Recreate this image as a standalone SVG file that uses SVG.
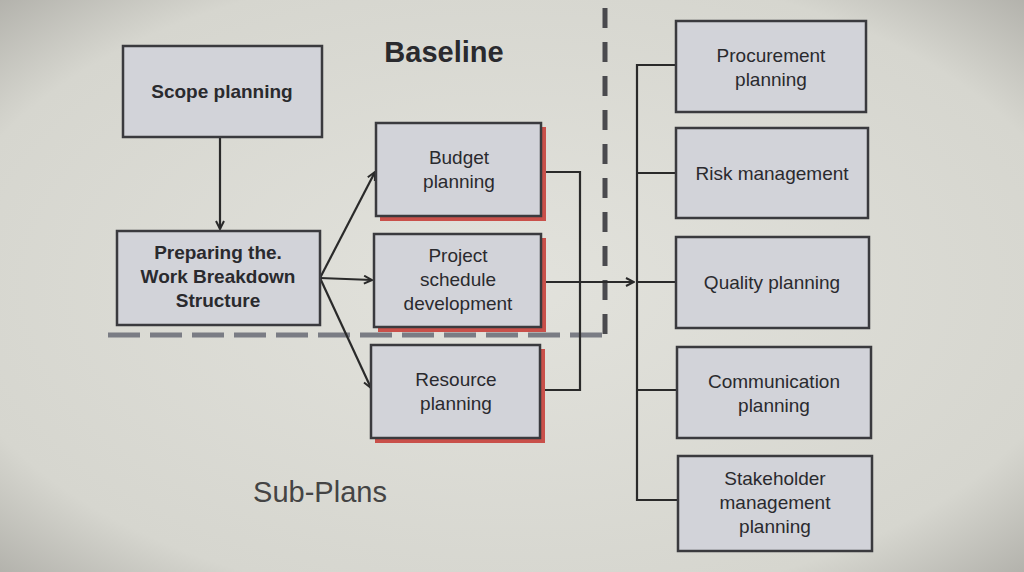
<svg xmlns="http://www.w3.org/2000/svg" width="1024" height="572" viewBox="0 0 1024 572">
<defs>
<radialGradient id="bg" cx="50%" cy="50%" r="75%">
<stop offset="0" stop-color="#e2e2dc"/><stop offset="0.75" stop-color="#d6d6cf"/><stop offset="1" stop-color="#a9a8a2"/>
</radialGradient>
<marker id="ah" markerWidth="10" markerHeight="10" refX="9" refY="5" orient="auto" markerUnits="userSpaceOnUse"><path d="M1,1 L9,5 L1,9" fill="none" stroke="#2a2a2a" stroke-width="2"/></marker>
<style>
.box{fill:#d2d3d9;stroke:#3a3a3e;stroke-width:2.5}
.shadow{fill:#c9504a}
.t{font-family:"Liberation Sans",Arial,sans-serif;font-size:19px;fill:#2a2a2e;text-anchor:middle}
.b{font-weight:bold}
.c{fill:none;stroke:#2a2a2a;stroke-width:2.2}
</style>
</defs>
<rect width="1024" height="572" fill="url(#bg)"/>
<text x="444" y="62" class="t b" style="font-size:29px">Baseline</text>
<text x="320" y="502" class="t" style="font-size:29px;fill:#444">Sub-Plans</text>
<g id="dividers">
<line x1="605" y1="8" x2="605" y2="336" stroke="#4a4a4e" stroke-width="5" stroke-dasharray="20,14"/>
<line x1="108" y1="335" x2="605" y2="335" stroke="#7a7c84" stroke-width="5" stroke-dasharray="32,10"/>
</g>
<g id="connectors">
<line class="c" x1="220" y1="137" x2="220" y2="229" marker-end="url(#ah)"/>
<line class="c" x1="320" y1="278" x2="375" y2="172" marker-end="url(#ah)"/>
<line class="c" x1="320" y1="278" x2="372" y2="280" marker-end="url(#ah)"/>
<line class="c" x1="320" y1="278" x2="371" y2="388" marker-end="url(#ah)"/>
<path class="c" d="M541,172 H580 V390 H540"/>
<line class="c" x1="541" y1="282" x2="634" y2="282" marker-end="url(#ah)"/>
<path class="c" d="M676,65 H637 V500 H678"/>
<line class="c" x1="637" y1="173" x2="676" y2="173"/>
<line class="c" x1="637" y1="282" x2="676" y2="282"/>
<line class="c" x1="637" y1="390" x2="677" y2="390"/>
</g>
<g id="scope"><rect class="box" x="123" y="46" width="199" height="91"/><text class="t b" x="222" y="98">Scope planning</text></g>
<g id="wbs"><rect class="box" x="117" y="231" width="203" height="94"/><text class="t b" x="218" y="259">Preparing the.</text><text class="t b" x="218" y="283">Work Breakdown</text><text class="t b" x="218" y="307">Structure</text></g>
<g id="budget"><rect class="shadow" x="380" y="127" width="166" height="94"/><rect class="box" x="376" y="123" width="165" height="93"/><text class="t" x="459" y="164">Budget</text><text class="t" x="459" y="188">planning</text></g>
<g id="schedule"><rect class="shadow" x="378" y="238" width="168" height="94"/><rect class="box" x="374" y="234" width="167" height="93"/><text class="t" x="458" y="262">Project</text><text class="t" x="458" y="286">schedule</text><text class="t" x="458" y="310">development</text></g>
<g id="resource"><rect class="shadow" x="375" y="349" width="170" height="94"/><rect class="box" x="371" y="345" width="169" height="93"/><text class="t" x="456" y="386">Resource</text><text class="t" x="456" y="410">planning</text></g>
<g id="procurement"><rect class="box" x="676" y="21" width="190" height="91"/><text class="t" x="771" y="62">Procurement</text><text class="t" x="771" y="86">planning</text></g>
<g id="risk"><rect class="box" x="676" y="128" width="192" height="90"/><text class="t" x="772" y="180">Risk management</text></g>
<g id="quality"><rect class="box" x="676" y="237" width="193" height="91"/><text class="t" x="772" y="289">Quality planning</text></g>
<g id="communication"><rect class="box" x="677" y="347" width="194" height="91"/><text class="t" x="774" y="388">Communication</text><text class="t" x="774" y="412">planning</text></g>
<g id="stakeholder"><rect class="box" x="678" y="456" width="194" height="95"/><text class="t" x="775" y="485">Stakeholder</text><text class="t" x="775" y="509">management</text><text class="t" x="775" y="533">planning</text></g>
</svg>
